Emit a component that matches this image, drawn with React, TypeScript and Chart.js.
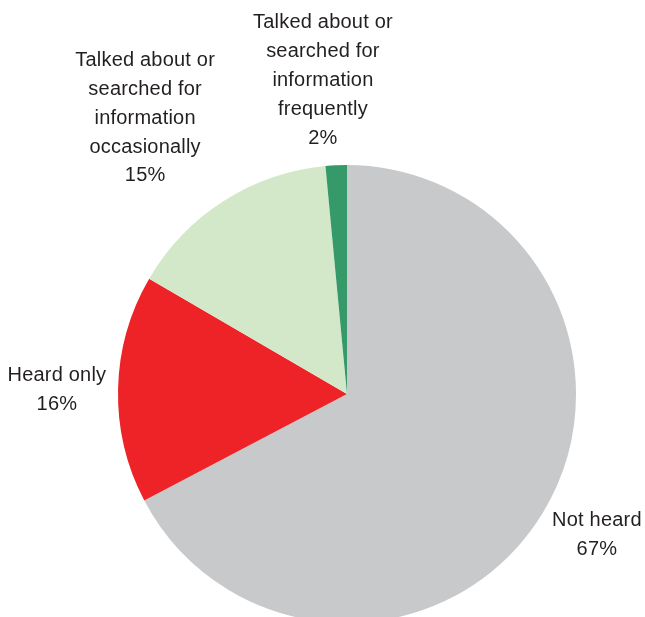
import React, { useEffect, useRef } from "react";
import { Chart, registerables } from "chart.js";

Chart.register(...registerables);

const categories: string[][] = [
  ["Not heard"],
  ["Heard only"],
  ["Talked about or", "searched for", "information", "occasionally"],
  ["Talked about or", "searched for", "information", "frequently"],
];
const values: number[] = [67.3, 16.1, 15.1, 1.5];
const colors: string[] = ["#c8c9cb", "#ed2328", "#d3e8c9", "#35996a"];
// label anchor distance factors (x, y) relative to the outer radius, along each slice's mid angle
const labelFactorsX: number[] = [1.275, 1.267, 1.637, 2.23];
const labelFactorsY: number[] = [1.19, 0.77, 1.429, 1.371];

const labelPlugin = {
  id: "outerLabels",
  afterDraw(chart: any) {
    const ctx = chart.ctx;
    const meta = chart.getDatasetMeta(0);
    const total = values.reduce((a, b) => a + b, 0);
    ctx.save();
    ctx.font = '20px "Liberation Sans", Arial, sans-serif';
    try {
      (ctx as any).letterSpacing = "0.2px";
    } catch (e) {}
    ctx.fillStyle = "#231f20";
    ctx.textAlign = "center";
    ctx.textBaseline = "middle";
    const lineH = 28.8;
    meta.data.forEach((arc: any, i: number) => {
      const p = arc.getProps(["x", "y", "startAngle", "endAngle", "outerRadius"], true);
      const mid = (p.startAngle + p.endAngle) / 2;
      const cx = p.x + Math.cos(mid) * p.outerRadius * labelFactorsX[i];
      const cy = p.y + Math.sin(mid) * p.outerRadius * labelFactorsY[i];
      const lines = [...categories[i], Math.round((values[i] / total) * 100) + "%"];
      const top = cy - ((lines.length - 1) * lineH) / 2;
      lines.forEach((t, k) => ctx.fillText(t, cx, top + k * lineH));
    });
    ctx.restore();
  },
};

export default function App() {
  const ref = useRef<HTMLCanvasElement>(null);
  useEffect(() => {
    if (!ref.current) return;
    const chart = new Chart(ref.current, {
      type: "pie",
      data: {
        labels: categories.map((c) => c.join(" ")),
        datasets: [
          {
            data: values,
            backgroundColor: colors,
            borderWidth: 0,
          },
        ],
      },
      options: {
        responsive: false,
        animation: false,
        layout: { padding: { left: 118, right: 69, top: 165, bottom: 177 } },
        plugins: {
          legend: { display: false },
          tooltip: { enabled: false },
        },
      },
      plugins: [labelPlugin],
    });
    return () => chart.destroy();
  }, []);
  return (
    <div
      style={{
        position: "fixed",
        left: 0,
        top: 0,
        width: 645,
        height: 617,
        overflow: "hidden",
        background: "#fff",
      }}
    >
      <canvas ref={ref} width={645} height={800} style={{ display: "block" }} />
    </div>
  );
}
